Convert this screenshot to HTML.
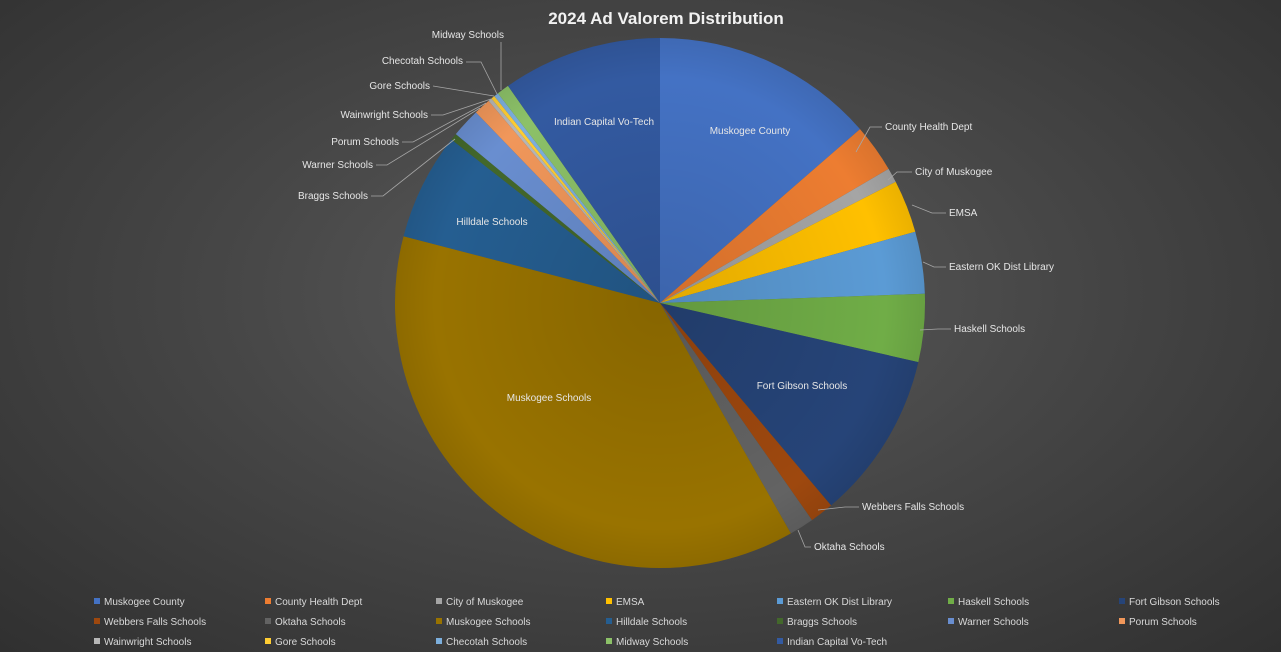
<!DOCTYPE html>
<html><head><meta charset="utf-8"><style>
body{margin:0;width:1281px;height:652px;overflow:hidden;background:radial-gradient(ellipse at 50% 45%,#5c5c5c 0%,#474747 45%,#303030 100%);font-family:"Liberation Sans",sans-serif;}
svg{position:absolute;left:0;top:0}
</style></head><body>
<svg id="s" width="1281" height="652" xmlns="http://www.w3.org/2000/svg">
<text x="666" y="24" text-anchor="middle" font-size="17" font-weight="bold" fill="#f2f2f2">2024 Ad Valorem Distribution</text>
<g id="pie"></g>
<g id="lbl" font-size="10" fill="#e6e6e6"></g>
<g id="leg" font-size="10" fill="#d9d9d9"></g>
</svg>
<script>
var cx=660,cy=303,r=265;
var b=[0,49,59.6,62.8,74.4,88,102.9,139.8,145,150.4,284.6,308.1,309.6,316,319.7,320.5,321.3,322.3,325,360];
var names=["Muskogee County","County Health Dept","City of Muskogee","EMSA","Eastern OK Dist Library","Haskell Schools","Fort Gibson Schools","Webbers Falls Schools","Oktaha Schools","Muskogee Schools","Hilldale Schools","Braggs Schools","Warner Schools","Porum Schools","Wainwright Schools","Gore Schools","Checotah Schools","Midway Schools","Indian Capital Vo-Tech"];
var cols=["#4472C4","#ED7D31","#A5A5A5","#FFC000","#5B9BD5","#70AD47","#264478","#9E480E","#636363","#997300","#255E91","#43682B","#698ED0","#F1975A","#B7B7B7","#FFCD33","#7CAFDD","#8CC168","#335AA1"];
function pt(a,rr){a=a*Math.PI/180;return [cx+rr*Math.sin(a),cy-rr*Math.cos(a)];}
var h="";
for(var i=0;i<19;i++){var p1=pt(b[i],r),p2=pt(b[i+1],r),lg=(b[i+1]-b[i])>180?1:0;
h+='<path d="M'+cx+','+cy+' L'+p1[0]+','+p1[1]+' A'+r+','+r+' 0 '+lg+' 1 '+p2[0]+','+p2[1]+' Z" fill="'+cols[i]+'" stroke="none"/>';}
h+='<circle cx="'+cx+'" cy="'+cy+'" r="'+r+'" fill="url(#g)"/>';
document.getElementById('pie').innerHTML='<defs><radialGradient id="g" cx="50%" cy="50%" r="50%"><stop offset="0" stop-color="#000" stop-opacity="0.12"/><stop offset="0.85" stop-color="#000" stop-opacity="0"/><stop offset="1" stop-color="#000" stop-opacity="0.08"/></radialGradient></defs>'+h;
// labels inside
var L='';
function t(x,y,s,a){L+='<text x="'+x+'" y="'+y+'"'+(a?' text-anchor="'+a+'"':'')+'>'+s+'</text>';}
t(750,134,"Muskogee County","middle");t(604,125,"Indian Capital Vo-Tech","middle");t(492,225,"Hilldale Schools","middle");t(549,401,"Muskogee Schools","middle");t(802,389,"Fort Gibson Schools","middle");
// outside labels with leaders [textx,texty,anchor,name,line points]
var o=[[885,130,"start","County Health Dept",[[856,152],[870,127],[882,127]]],
[915,175,"start","City of Muskogee",[[888,180],[897,172],[912,172]]],
[949,216,"start","EMSA",[[912,205],[932,213],[946,213]]],
[949,270,"start","Eastern OK Dist Library",[[923,262],[934,267],[946,267]]],
[954,332,"start","Haskell Schools",[[920,330],[938,329],[951,329]]],
[862,510,"start","Webbers Falls Schools",[[818,510],[845,507],[859,507]]],
[814,550,"start","Oktaha Schools",[[798,530],[805,547],[811,547]]],
[504,38,"end","Midway Schools",[[501,90],[501,42]]],
[463,64,"end","Checotah Schools",[[497,94],[481,62],[466,62]]],
[430,89,"end","Gore Schools",[[494,96],[433,86]]],
[428,118,"end","Wainwright Schools",[[491,99],[443,115],[431,115]]],
[399,145,"end","Porum Schools",[[486,103],[413,142],[402,142]]],
[373,168,"end","Warner Schools",[[480,108],[387,165],[376,165]]],
[368,199,"end","Braggs Schools",[[455,139],[383,196],[371,196]]]];
o.forEach(function(e){t(e[0],e[1],e[3],e[2]);L+='<polyline points="'+e[4].map(function(p){return p.join(',')}).join(' ')+'" fill="none" stroke="#a6a6a6" stroke-width="0.8"/>';});
document.getElementById('lbl').innerHTML=L;
// legend
var xs=[94,265,436,606,777,948,1119],ys=[605,625,645],G='';
for(var i=0;i<19;i++){var x=xs[i%7],y=ys[Math.floor(i/7)];
G+='<rect x="'+x+'" y="'+(y-7)+'" width="6" height="6" fill="'+cols[i]+'"/><text x="'+(x+10)+'" y="'+y+'">'+names[i]+'</text>';}
document.getElementById('leg').innerHTML=G;
</script>
</body></html>
